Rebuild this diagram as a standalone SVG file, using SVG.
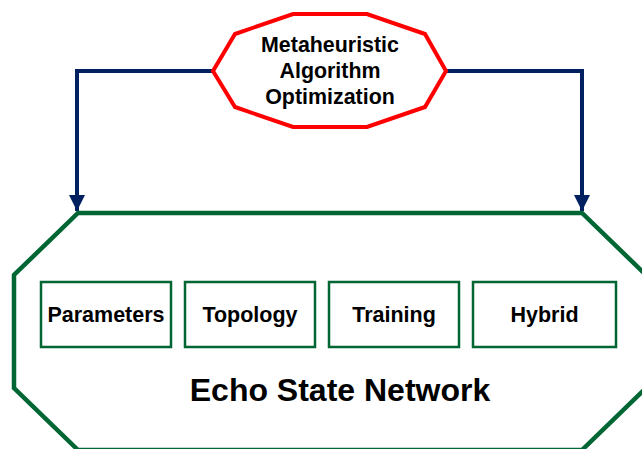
<svg xmlns="http://www.w3.org/2000/svg" width="642" height="449" viewBox="0 0 642 449">
  <defs>
    <marker id="arrow" viewBox="0 0 10 10" refX="10" refY="5" markerWidth="4.4" markerHeight="4" markerUnits="strokeWidth" orient="auto">
      <path d="M0,0 L10,5 L0,10 Z" fill="#002060"/>
    </marker>
    <style>
      .lbl { font-family: "Liberation Sans", Arial, sans-serif; font-weight: bold; fill: #000; text-anchor: middle; }
      .box { fill: #fff; stroke: #006633; stroke-width: 2.5; }
      .link { fill: none; stroke: #002060; stroke-width: 4; }
    </style>
  </defs>
  <rect width="642" height="449" fill="#fff"/>

  <g id="connectors">
    <path class="link" d="M213,71 H77 V211" marker-end="url(#arrow)"/>
    <path class="link" d="M446,71 H582 V211" marker-end="url(#arrow)"/>
  </g>

  <g id="esn">
    <polygon points="78,213 582,213 646,275 646,388 582,450 78,450 14,388 14,275" fill="#fff" stroke="#006633" stroke-width="4.5"/>
    <text class="lbl" x="340" y="401" font-size="32">Echo State Network</text>
  </g>

  <g id="parameters">
    <rect class="box" x="41" y="282" width="130" height="65"/>
    <text class="lbl" x="106" y="322" font-size="21.5">Parameters</text>
  </g>
  <g id="topology">
    <rect class="box" x="185" y="282" width="130" height="65"/>
    <text class="lbl" x="250" y="322" font-size="21.5">Topology</text>
  </g>
  <g id="training">
    <rect class="box" x="329" y="282" width="130" height="65"/>
    <text class="lbl" x="394" y="322" font-size="21.5">Training</text>
  </g>
  <g id="hybrid">
    <rect class="box" x="473" y="282" width="143" height="65"/>
    <text class="lbl" x="544.5" y="322" font-size="21.5">Hybrid</text>
  </g>

  <g id="optimizer">
    <polygon points="213,71 235,34 293,14 367,14 425,34 446,71 425,107 367,127 293,127 235,107" fill="#fff" stroke="#ff0000" stroke-width="4"/>
    <text class="lbl" x="330" y="52" font-size="21.4">Metaheuristic</text>
    <text class="lbl" x="330" y="78" font-size="21.4">Algorithm</text>
    <text class="lbl" x="330" y="104" font-size="21.4">Optimization</text>
  </g>
</svg>
